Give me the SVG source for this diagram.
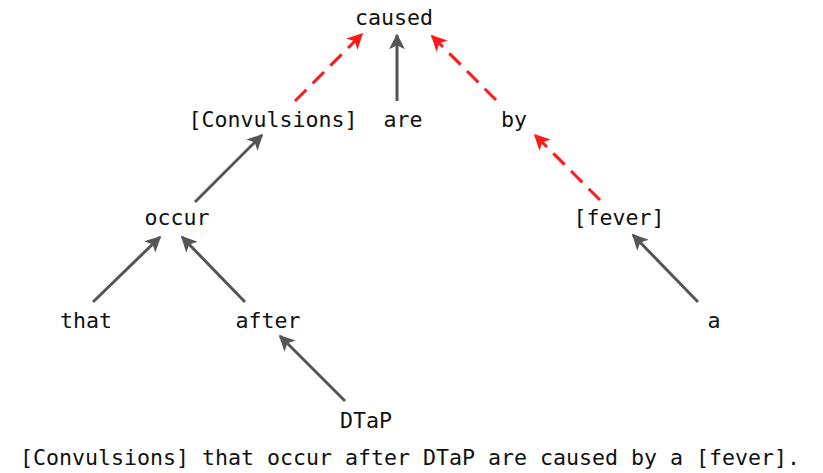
<svg xmlns="http://www.w3.org/2000/svg" width="823" height="473" viewBox="0 0 823 473">
  <style>
    text { font-family: "DejaVu Sans Mono", "Liberation Mono", monospace; font-size: 21.6px; fill: #111; text-anchor: middle; }
    .dep { stroke: #555; stroke-width: 3; fill: none; }
    .key { stroke: #ff1a1a; stroke-width: 3; fill: none; stroke-dasharray: 16 9; }
  </style>
  <defs>
    <marker id="headGray" viewBox="0 0 10 10" refX="9" refY="5" markerWidth="5.3" markerHeight="5.3" markerUnits="strokeWidth" orient="auto">
      <path d="M0,0 L10,5 L0,10 L2.5,5 z" fill="#555"/>
    </marker>
    <marker id="headRed" viewBox="0 0 10 10" refX="9" refY="5" markerWidth="5.3" markerHeight="5.3" markerUnits="strokeWidth" orient="auto">
      <path d="M0,0 L10,5 L0,10 L2.5,5 z" fill="#ff1a1a"/>
    </marker>
  </defs>
  <rect width="823" height="473" fill="#fff"/>

  <g id="connectors">
    <line class="key" x1="295" y1="101" x2="362" y2="34" marker-end="url(#headRed)"/>
    <line class="dep" x1="397" y1="101" x2="397" y2="35" marker-end="url(#headGray)"/>
    <line class="key" x1="496" y1="100" x2="432" y2="36" marker-end="url(#headRed)"/>
    <line class="key" x1="600" y1="200" x2="535" y2="135" marker-end="url(#headRed)"/>
    <line class="dep" x1="195" y1="202" x2="262" y2="135" marker-end="url(#headGray)"/>
    <line class="dep" x1="93" y1="302" x2="160" y2="237" marker-end="url(#headGray)"/>
    <line class="dep" x1="245" y1="302" x2="182" y2="237" marker-end="url(#headGray)"/>
    <line class="dep" x1="345" y1="401" x2="280" y2="336" marker-end="url(#headGray)"/>
    <line class="dep" x1="698" y1="302" x2="633" y2="235" marker-end="url(#headGray)"/>
  </g>

  <g id="caused"><text x="394" y="25">caused</text></g>
  <g id="convulsions"><text x="273" y="127">[Convulsions]</text></g>
  <g id="are"><text x="403" y="127">are</text></g>
  <g id="by"><text x="514" y="127">by</text></g>
  <g id="occur"><text x="177" y="225">occur</text></g>
  <g id="fever"><text x="619" y="225">[fever]</text></g>
  <g id="that"><text x="86" y="328">that</text></g>
  <g id="after"><text x="268" y="328">after</text></g>
  <g id="a"><text x="714" y="328">a</text></g>
  <g id="dtap"><text x="366" y="428">DTaP</text></g>
  <g id="sentence"><text x="410" y="465">[Convulsions] that occur after DTaP are caused by a [fever].</text></g>
</svg>
